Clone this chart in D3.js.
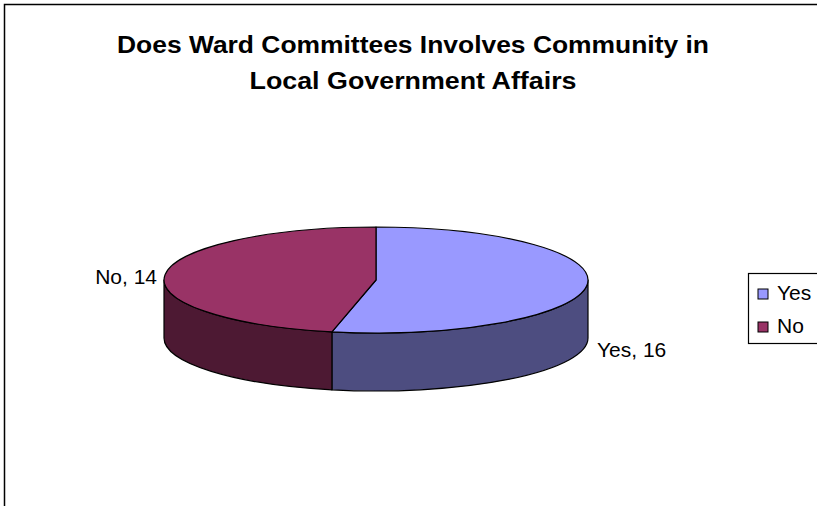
<!DOCTYPE html>
<html>
<head>
<meta charset="utf-8">
<script src="https://cdn.jsdelivr.net/npm/d3@7"></script>
<style>
  body { margin: 0; background: #fff; }
  svg { display: block; font-family: "Liberation Sans", Arial, sans-serif; }
</style>
</head>
<body>
<div id="chart"></div>
<script>
var categories = ["Yes", "No"];
var values = [16, 14];
var topColors = ["#9999ff", "#993366"];
var sideColors = ["#4d4d80", "#4d1933"];
var titleLines = ["Does Ward Committees Involves Community in", "Local Government Affairs"];

var w = 817, h = 506;
var cx = 376, cy = 280, rx = 212, ry = 53, depth = 58;

var svg = d3.select("#chart").append("svg")
  .attr("width", w)
  .attr("height", h);

// chart frame (cut off at right and bottom)
svg.append("path")
  .attr("d", "M4.5," + (h + 5) + " L4.5,4.5 L" + (w + 5) + ",4.5")
  .attr("fill", "none")
  .attr("stroke", "#000")
  .attr("stroke-width", 1.5);

var titleWidths = [592, 327];
svg.selectAll("text.title")
  .data(titleLines)
  .enter()
  .append("text")
  .attr("class", "title")
  .attr("x", 413)
  .attr("y", function(d, i) { return 53 + i * 36; })
  .attr("text-anchor", "middle")
  .attr("font-size", "23px")
  .attr("font-weight", "bold")
  .attr("textLength", function(d, i) { return titleWidths[i]; })
  .attr("lengthAdjust", "spacingAndGlyphs")
  .text(function(d) { return d; });

var pie = d3.pie().sort(null).value(function(d) { return d; });
var slices = pie(values);

function pt(a, dy) {
  return [cx + rx * Math.sin(a), cy - ry * Math.cos(a) + (dy || 0)];
}

// outer wall for the visible (front) part of each slice
function wallPath(s) {
  var a0 = Math.max(s.startAngle, Math.PI / 2);
  var a1 = Math.min(s.endAngle, Math.PI * 3 / 2);
  if (a1 <= a0) return null;
  var p0 = pt(a0), p1 = pt(a1), q1 = pt(a1, depth), q0 = pt(a0, depth);
  return "M" + p0 + " A" + rx + "," + ry + " 0 0 1 " + p1 +
    " L" + q1 + " A" + rx + "," + ry + " 0 0 0 " + q0 + " Z";
}

var g = svg.append("g");

g.selectAll("path.wall")
  .data(slices.filter(function(s) { return wallPath(s); }))
  .enter()
  .append("path")
  .attr("class", "wall")
  .attr("d", wallPath)
  .attr("fill", function(d) { return sideColors[d.index]; })
  .attr("stroke", "#000")
  .attr("stroke-width", 1.2)
  .attr("stroke-linejoin", "round");

var arc = d3.arc().innerRadius(0).outerRadius(rx);

g.selectAll("path.top")
  .data(slices)
  .enter()
  .append("path")
  .attr("class", "top")
  .attr("transform", "translate(" + cx + "," + cy + ") scale(1," + (ry / rx) + ")")
  .attr("d", arc)
  .attr("fill", function(d) { return topColors[d.index]; })
  .attr("stroke", "#000")
  .attr("stroke-width", 1.2)
  .attr("stroke-linejoin", "round")
  .attr("vector-effect", "non-scaling-stroke");

// data labels
var labelPos = [
  { x: 597, y: 357, anchor: "start" },
  { x: 157, y: 284, anchor: "end" }
];
svg.selectAll("text.label")
  .data(slices)
  .enter()
  .append("text")
  .attr("class", "label")
  .attr("x", function(d) { return labelPos[d.index].x; })
  .attr("y", function(d) { return labelPos[d.index].y; })
  .attr("text-anchor", function(d) { return labelPos[d.index].anchor; })
  .attr("font-size", "21px")
  .text(function(d) { return categories[d.index] + ", " + d.value; });

// legend
var lg = svg.append("g").attr("transform", "translate(748,273)");
lg.append("rect")
  .attr("x", 0.5).attr("y", 0.5)
  .attr("width", 80).attr("height", 70)
  .attr("fill", "#fff")
  .attr("stroke", "#000")
  .attr("stroke-width", 1.2);

var items = lg.selectAll("g.item")
  .data(categories)
  .enter()
  .append("g")
  .attr("class", "item")
  .attr("transform", function(d, i) { return "translate(10," + (16 + i * 33) + ")"; });

items.append("rect")
  .attr("width", 10).attr("height", 10)
  .attr("fill", function(d, i) { return topColors[i]; })
  .attr("stroke", "#000")
  .attr("stroke-width", 1);

items.append("text")
  .attr("x", 19)
  .attr("y", 11)
  .attr("font-size", "21px")
  .text(function(d) { return d; });
</script>
</body>
</html>
